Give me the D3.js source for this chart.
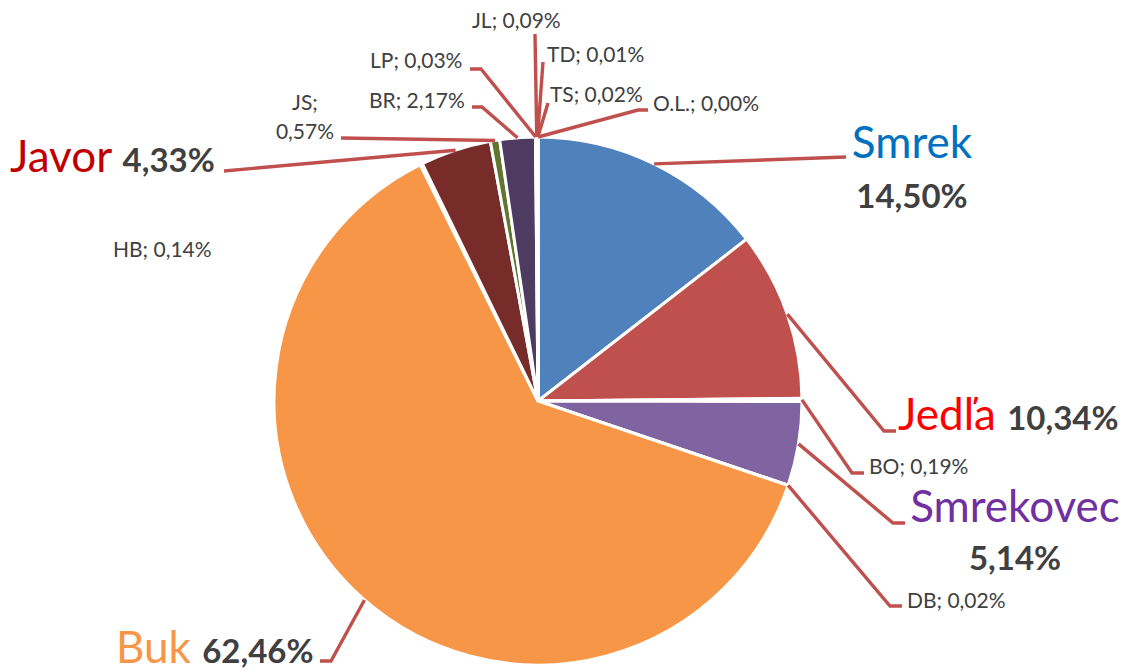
<!DOCTYPE html>
<html>
<head>
<meta charset="utf-8">
<script src="https://cdn.jsdelivr.net/npm/d3@7"></script>
<style>
  body { margin: 0; background: #fff; }
  text { font-family: Lato, "Open Sans", sans-serif; }
</style>
</head>
<body>
<div id="chart"></div>
<script>
// podiel drevin (%)
const species = ["Smrek", "Jedľa", "BO", "Smrekovec", "DB", "Buk", "HB", "Javor", "JS", "BR", "LP", "JL", "TD", "TS", "O.L."];
const shares = [14.50, 10.34, 0.19, 5.14, 0.02, 62.46, 0.14, 4.33, 0.57, 2.17, 0.03, 0.09, 0.01, 0.02, 0.00];
const sliceColors = ["#4F81BD", "#C0504D", "#9BBB59", "#8064A2", "#4BACC6", "#F79646", "#2C4D75",
  "#772C2A", "#5F7530", "#4D3B62", "#276A7C", "#B65708", "#729ACA", "#CD7371", "#AFC97A"];
// main species get big coloured names
const mainNames = { "Smrek": "#0070C0", "Jedľa": "#FF0000", "Smrekovec": "#7030A0", "Buk": "#F79646", "Javor": "#C00000" };

const width = 1127, height = 672;
const cx = 538, cy = 401, radius = 264;

// label layout: text anchor point + leader line elbow / end
const labelLayout = {
  "Smrek":     { x: 912, y: 158, y2: 208, stack: true, elbow: [846, 157], end: [846, 157] },
  "Jedľa":     { x: 898, y: 430, elbow: [884, 431], end: [896, 431] },
  "BO":        { x: 869, y: 474, elbow: [852, 473], end: [864, 473] },
  "Smrekovec": { x: 1015, y: 522, y2: 570, stack: true, elbow: [893, 523], end: [905, 523] },
  "DB":        { x: 907, y: 608, elbow: [890, 606], end: [902, 606] },
  "Buk":       { x: 116, y: 663, elbow: [331, 661], end: [320, 661] },
  "HB":        { x: 113, y: 257 },
  "Javor":     { x: 10, y: 172, elbow: [224, 171], end: [224, 171] },
  "JS":        { x: 305, y: 110, y2: 139, split: true, elbow: [341, 138], end: [341, 138] },
  "BR":        { x: 369, y: 108, elbow: [482, 107], end: [472, 107] },
  "LP":        { x: 370, y: 68, elbow: [481, 69], end: [470, 69] },
  "JL":        { x: 472, y: 28, elbow: [535, 34], end: [535, 34] },
  "TD":        { x: 547, y: 62, elbow: [543, 62], end: [543, 62] },
  "TS":        { x: 550, y: 102, elbow: [548, 103], end: [548, 103] },
  "O.L.":      { x: 653, y: 111, elbow: [638, 110], end: [648, 110] }
};

const fmt = v => d3.format(".2f")(v).replace(".", ",") + "%";

const data = species.map((name, i) => ({ name: name, value: shares[i], color: sliceColors[i] }));

const svg = d3.select("#chart").append("svg")
    .attr("width", width)
    .attr("height", height);

const pie = d3.pie().sort(null).value(d => d.value);
const arcs = pie(data);

const arc = d3.arc().innerRadius(0).outerRadius(radius);
const edgeArc = d3.arc().innerRadius(radius).outerRadius(radius); // point on rim

const g = svg.append("g").attr("transform", "translate(" + cx + "," + cy + ")");

g.selectAll("path")
  .data(arcs)
  .enter().append("path")
    .attr("d", arc)
    .attr("fill", d => d.data.color)
    .attr("stroke", "#fff")
    .attr("stroke-width", 3);

// leader lines
svg.append("g").selectAll("polyline")
  .data(arcs.filter(d => labelLayout[d.data.name].end))
  .enter().append("polyline")
    .attr("points", d => {
      const c = edgeArc.centroid(d);
      const L = labelLayout[d.data.name];
      return [[cx + c[0], cy + c[1]], L.elbow, L.end].map(p => p.join(",")).join(" ");
    })
    .attr("fill", "none")
    .attr("stroke", "#C0504D")
    .attr("stroke-width", 3.4);

// labels
const labels = svg.append("g");
data.forEach(d => {
  const L = labelLayout[d.name];
  if (mainNames[d.name]) {
    if (L.stack) {
      labels.append("text").attr("x", L.x).attr("y", L.y)
        .attr("text-anchor", "middle")
        .style("font-size", "44px").attr("fill", mainNames[d.name]).text(d.name);
      labels.append("text").attr("x", L.x).attr("y", L.y2)
        .attr("text-anchor", "middle")
        .style("font-size", "33px").style("font-weight", "bold").attr("fill", "#404040").text(fmt(d.value));
    } else {
      const t = labels.append("text").attr("x", L.x).attr("y", L.y);
      t.append("tspan").style("font-size", "44px").attr("fill", mainNames[d.name]).text(d.name + " ");
      t.append("tspan").style("font-size", "33px").style("font-weight", "bold").attr("fill", "#404040").text(fmt(d.value));
    }
  } else if (L.split) {
    labels.append("text").attr("x", L.x).attr("y", L.y).attr("text-anchor", "middle")
      .style("font-size", "21px").attr("fill", "#404040").text(d.name + ";");
    labels.append("text").attr("x", L.x).attr("y", L.y2).attr("text-anchor", "middle")
      .style("font-size", "21px").attr("fill", "#404040").text(fmt(d.value));
  } else {
    labels.append("text").attr("x", L.x).attr("y", L.y)
      .style("font-size", "21px").attr("fill", "#404040").text(d.name + "; " + fmt(d.value));
  }
});
</script>
</body>
</html>
